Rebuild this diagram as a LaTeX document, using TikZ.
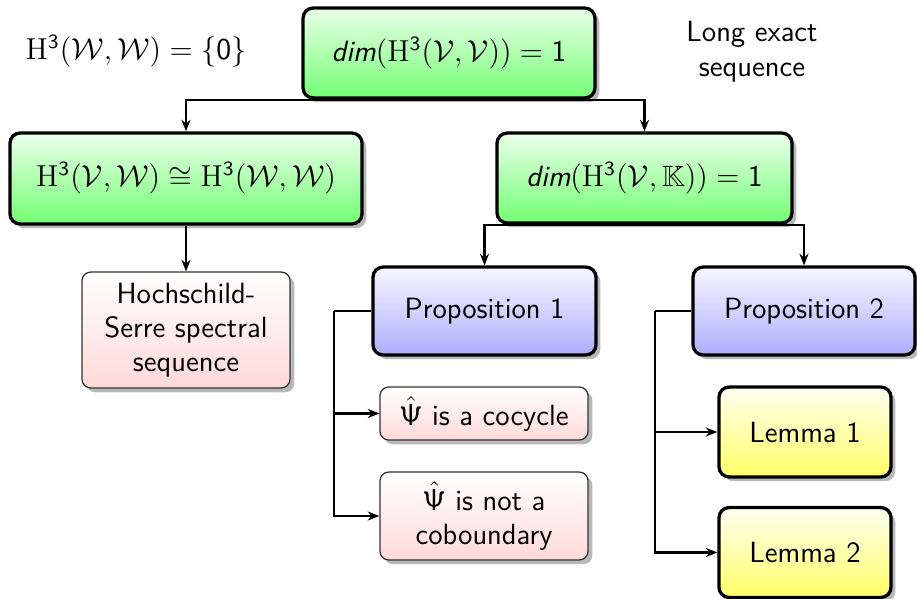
\documentclass[tikz,border=0pt]{standalone}
\usepackage{amssymb}
\usetikzlibrary{arrows.meta,shadows,shapes.misc}
\begin{document}
\begin{tikzpicture}[x=0.396pt,y=-0.396pt,
  font=\fontsize{11.6}{13.5}\selectfont\sffamily,
  boxbase/.style={rectangle, rounded corners=4pt, align=center, inner sep=0pt,
    drop shadow={shadow xshift=1.7pt, shadow yshift=-1.7pt, fill=black, opacity=0.28}},
  greenbox/.style={boxbase, draw=black, line width=1.3pt, top color=green!8!white, bottom color=green!55!white},
  bluebox/.style={boxbase, draw=black, line width=1.3pt, top color=blue!3!white, bottom color=blue!32!white},
  yellowbox/.style={boxbase, draw=black, line width=1.3pt, top color=yellow!5!white, bottom color=yellow!60!white},
  pinkbox/.style={boxbase, rounded corners=3.5pt, draw=black!80, line width=0.5pt, top color=white, bottom color=red!15!white},
  conn/.style={line width=0.85pt},
  arr/.style={conn, -{Stealth[length=4.6pt, width=3.6pt]}},
  plain/.style={align=center, inner sep=0pt}
]
\useasboundingbox (0,0) rectangle (917,598);

% nodes
\node[plain] (hww) at (136,51) {$\mathrm{H}^{\mathsf{3}}(\mathcal{W},\mathcal{W}) = \{\mathsf{0}\}$};
\node[greenbox, minimum width=115.6pt, minimum height=35.6pt] (top) at (449,53)
  {$\textit{dim}(\mathrm{H}^{\mathsf{3}}(\mathcal{V},\mathcal{V})) = \mathsf{1}$};
\node[plain, font=\fontsize{11.6}{13.9}\selectfont\sffamily] (les) at (752,52) {Long exact\\sequence};

\node[greenbox, minimum width=139.4pt, minimum height=36pt] (l1) at (186,178.5)
  {$\mathrm{H}^{\mathsf{3}}(\mathcal{V},\mathcal{W}) \cong \mathrm{H}^{\mathsf{3}}(\mathcal{W},\mathcal{W})$};
\node[greenbox, minimum width=116.8pt, minimum height=35.6pt] (r1) at (644.5,178)
  {$\textit{dim}(\mathrm{H}^{\mathsf{3}}(\mathcal{V},\mathbb{K})) = \mathsf{1}$};

\node[pinkbox, minimum width=82.4pt, minimum height=45.9pt] (hs) at (186,330)
  {Hochschild-\\Serre spectral\\sequence};

\node[bluebox, minimum width=88.3pt, minimum height=34.8pt] (p1) at (484.5,311) {Proposition 1};
\node[bluebox, minimum width=87.9pt, minimum height=34.8pt] (p2) at (804,311) {Proposition 2};

\node[pinkbox, minimum width=82.4pt, minimum height=21pt] (cyc) at (484,413.5) {$\hat{\mathsf{\Psi}}$ is a cocycle};
\node[pinkbox, minimum width=82.4pt, minimum height=34.8pt] (cob) at (484,516) {$\hat{\mathsf{\Psi}}$ is not a\\coboundary};

\node[yellowbox, minimum width=68.1pt, minimum height=35.6pt] (lm1) at (805,432) {Lemma 1};
\node[yellowbox, minimum width=68.1pt, minimum height=35.6pt] (lm2) at (805,552.5) {Lemma 2};

% connectors
\coordinate (tj) at (449,100);
\draw[conn] (top.south) -- (tj);
\draw[arr] (tj) -| (l1.north);
\draw[arr] (tj) -| (r1.north);

\coordinate (rj) at (644.5,225);
\draw[conn] (r1.south) -- (rj);
\draw[arr] (rj) -| (p1.north);
\draw[arr] (rj) -| (p2.north);

\draw[arr] (l1.south) -- (hs.north);

\coordinate (pj1) at (334,311);
\draw[conn] (p1.west) -- (pj1);
\draw[arr] (pj1) |- (cyc.west);
\draw[arr] (pj1) |- (cob.west);

\coordinate (pj2) at (655,311);
\draw[conn] (p2.west) -- (pj2);
\draw[arr] (pj2) |- (lm1.west);
\draw[arr] (pj2) |- (lm2.west);
\end{tikzpicture}
\end{document}
